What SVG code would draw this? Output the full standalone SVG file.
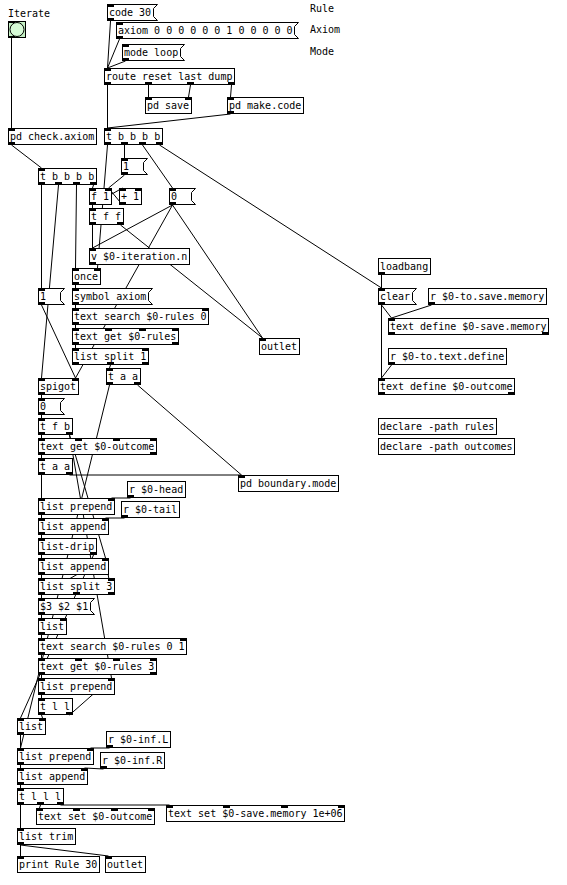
<svg xmlns="http://www.w3.org/2000/svg" width="567" height="885" viewBox="0 0 567 885">
<style>
.b{fill:#fff;stroke:#000;stroke-width:1}
.io{fill:#000}
.t{font-family:"DejaVu Sans Mono","Liberation Mono",monospace;font-size:10px;fill:#000}
.c{stroke:#000;stroke-width:1;fill:none}
</style>
<rect width="567" height="885" fill="#fff"/>
<g id="comments">
<text class="t" x="8" y="17">Iterate</text>
<text class="t" x="310" y="12">Rule</text>
<text class="t" x="310" y="33">Axiom</text>
<text class="t" x="310" y="55">Mode</text>
</g>
<g id="connectors" class="c">
<line x1="110.5" y1="21" x2="107.5" y2="68"/>
<line x1="119.5" y1="39" x2="107.5" y2="68"/>
<line x1="125.5" y1="61" x2="107.5" y2="68"/>
<line x1="107.5" y1="85" x2="107.5" y2="128"/>
<line x1="148.5" y1="85" x2="148.5" y2="97"/>
<line x1="190.5" y1="85" x2="188.5" y2="97"/>
<line x1="231.5" y1="85" x2="230.5" y2="97"/>
<line x1="230.5" y1="114" x2="107.5" y2="128"/>
<line x1="11.5" y1="38" x2="11.5" y2="128"/>
<line x1="11.5" y1="145" x2="41.5" y2="168"/>
<line x1="107.5" y1="145" x2="97.5" y2="268"/>
<line x1="124.5" y1="145" x2="124.5" y2="158"/>
<line x1="142.5" y1="145" x2="172.5" y2="188"/>
<line x1="159.5" y1="145" x2="381.5" y2="288"/>
<line x1="124.5" y1="175" x2="108.5" y2="188"/>
<line x1="92.5" y1="205" x2="122.5" y2="188"/>
<line x1="122.5" y1="205" x2="108.5" y2="188"/>
<line x1="92.5" y1="205" x2="92.5" y2="208"/>
<line x1="92.5" y1="225" x2="92.5" y2="248"/>
<line x1="120.5" y1="225" x2="262.5" y2="338"/>
<line x1="172.5" y1="205" x2="92.5" y2="248"/>
<line x1="172.5" y1="205" x2="262.5" y2="338"/>
<line x1="172.5" y1="205" x2="75.5" y2="378"/>
<line x1="41.5" y1="185" x2="41.5" y2="288"/>
<line x1="58.5" y1="185" x2="41.5" y2="378"/>
<line x1="76.5" y1="185" x2="75.5" y2="268"/>
<line x1="93.5" y1="185" x2="92.5" y2="188"/>
<line x1="41.5" y1="305" x2="75.5" y2="378"/>
<line x1="75.5" y1="285" x2="75.5" y2="288"/>
<line x1="75.5" y1="305" x2="75.5" y2="308"/>
<line x1="75.5" y1="325" x2="75.5" y2="328"/>
<line x1="75.5" y1="345" x2="75.5" y2="348"/>
<line x1="110.5" y1="365" x2="109.5" y2="368"/>
<line x1="137.5" y1="385" x2="241.5" y2="475"/>
<line x1="109.5" y1="385" x2="20.5" y2="748"/>
<line x1="41.5" y1="395" x2="41.5" y2="398"/>
<line x1="41.5" y1="415" x2="41.5" y2="418"/>
<line x1="41.5" y1="435" x2="41.5" y2="438"/>
<line x1="69.5" y1="435" x2="105.5" y2="558"/>
<line x1="69.5" y1="435" x2="111.5" y2="678"/>
<line x1="41.5" y1="455" x2="41.5" y2="458"/>
<line x1="41.5" y1="475" x2="41.5" y2="498"/>
<line x1="69.5" y1="475" x2="241.5" y2="475"/>
<line x1="130.5" y1="498" x2="111.5" y2="498"/>
<line x1="41.5" y1="515" x2="41.5" y2="518"/>
<line x1="124.5" y1="518" x2="105.5" y2="518"/>
<line x1="41.5" y1="535" x2="41.5" y2="538"/>
<line x1="41.5" y1="555" x2="41.5" y2="558"/>
<line x1="93.5" y1="555" x2="20.5" y2="718"/>
<line x1="41.5" y1="575" x2="41.5" y2="578"/>
<line x1="41.5" y1="595" x2="41.5" y2="598"/>
<line x1="41.5" y1="595" x2="105.5" y2="558"/>
<line x1="111.5" y1="595" x2="105.5" y2="558"/>
<line x1="41.5" y1="615" x2="41.5" y2="618"/>
<line x1="41.5" y1="635" x2="41.5" y2="638"/>
<line x1="41.5" y1="655" x2="41.5" y2="658"/>
<line x1="41.5" y1="675" x2="41.5" y2="678"/>
<line x1="41.5" y1="695" x2="41.5" y2="698"/>
<line x1="69.5" y1="715" x2="111.5" y2="678"/>
<line x1="41.5" y1="715" x2="42.5" y2="718"/>
<line x1="20.5" y1="735" x2="20.5" y2="748"/>
<line x1="109.5" y1="748" x2="90.5" y2="748"/>
<line x1="20.5" y1="765" x2="20.5" y2="768"/>
<line x1="103.5" y1="769" x2="84.5" y2="768"/>
<line x1="20.5" y1="785" x2="20.5" y2="788"/>
<line x1="20.5" y1="805" x2="20.5" y2="828"/>
<line x1="40.5" y1="805" x2="39.5" y2="808"/>
<line x1="60.5" y1="805" x2="169.5" y2="805"/>
<line x1="20.5" y1="845" x2="20.5" y2="856"/>
<line x1="20.5" y1="845" x2="108.5" y2="856"/>
<line x1="381.5" y1="275" x2="381.5" y2="288"/>
<line x1="381.5" y1="305" x2="391.5" y2="318"/>
<line x1="381.5" y1="305" x2="381.5" y2="378"/>
<line x1="431.5" y1="305" x2="391.5" y2="318"/>
<line x1="391.5" y1="365" x2="381.5" y2="378"/>
</g>
<g id="n_code30"><polygon class="b" points="107.5,4.5 157.5,4.5 153.5,8.5 153.5,16.5 157.5,20.5 107.5,20.5"/><text class="t" x="109" y="16">code 30</text><rect class="io" x="107" y="4" width="7" height="3"/><rect class="io" x="107" y="18" width="7" height="3"/></g>
<g id="n_axiom"><polygon class="b" points="116.5,22.5 298.5,22.5 294.5,26.5 294.5,34.5 298.5,38.5 116.5,38.5"/><text class="t" x="118" y="34">axiom 0 0 0 0 0 0 1 0 0 0 0 0</text><rect class="io" x="116" y="22" width="7" height="3"/><rect class="io" x="116" y="36" width="7" height="3"/></g>
<g id="n_mode"><polygon class="b" points="122.5,44.5 184.5,44.5 180.5,48.5 180.5,56.5 184.5,60.5 122.5,60.5"/><text class="t" x="124" y="56">mode loop</text><rect class="io" x="122" y="44" width="7" height="3"/><rect class="io" x="122" y="58" width="7" height="3"/></g>
<g id="n_route"><rect class="b" x="104.5" y="68.5" width="130" height="16"/><text class="t" x="106" y="80">route reset last dump</text><rect class="io" x="104" y="68" width="7" height="3"/><rect class="io" x="104" y="82" width="7" height="3"/><rect class="io" x="145" y="82" width="7" height="3"/><rect class="io" x="187" y="82" width="7" height="3"/><rect class="io" x="228" y="82" width="7" height="3"/></g>
<g id="n_pdsave"><rect class="b" x="145.5" y="97.5" width="46" height="16"/><text class="t" x="147" y="109">pd save</text><rect class="io" x="145" y="97" width="7" height="3"/><rect class="io" x="185" y="97" width="7" height="3"/></g>
<g id="n_makecode"><rect class="b" x="227.5" y="97.5" width="76" height="16"/><text class="t" x="229" y="109">pd make.code</text><rect class="io" x="227" y="97" width="7" height="3"/><rect class="io" x="227" y="111" width="7" height="3"/></g>
<g id="n_bang"><rect x="8.5" y="21.5" width="17" height="16" fill="#c4f0c4" stroke="#000"/><circle cx="17" cy="29.5" r="7" fill="#d6fad6" stroke="#000"/><rect class="io" x="8" y="21" width="7" height="2"/><rect class="io" x="8" y="36" width="7" height="2"/></g>
<g id="n_checkaxiom"><rect class="b" x="8.5" y="128.5" width="88" height="16"/><text class="t" x="10" y="140">pd check.axiom</text><rect class="io" x="8" y="128" width="7" height="3"/><rect class="io" x="8" y="142" width="7" height="3"/></g>
<g id="n_tbbbb1"><rect class="b" x="104.5" y="128.5" width="58" height="16"/><text class="t" x="106" y="140">t b b b b</text><rect class="io" x="104" y="128" width="7" height="3"/><rect class="io" x="104" y="142" width="7" height="3"/><rect class="io" x="121" y="142" width="7" height="3"/><rect class="io" x="139" y="142" width="7" height="3"/><rect class="io" x="156" y="142" width="7" height="3"/></g>
<g id="n_msg1a"><polygon class="b" points="121.5,158.5 147.5,158.5 143.5,162.5 143.5,170.5 147.5,174.5 121.5,174.5"/><text class="t" x="123" y="170">1</text><rect class="io" x="121" y="158" width="7" height="3"/><rect class="io" x="121" y="172" width="7" height="3"/></g>
<g id="n_tbbbb2"><rect class="b" x="38.5" y="168.5" width="58" height="16"/><text class="t" x="40" y="180">t b b b b</text><rect class="io" x="38" y="168" width="7" height="3"/><rect class="io" x="38" y="182" width="7" height="3"/><rect class="io" x="55" y="182" width="7" height="3"/><rect class="io" x="73" y="182" width="7" height="3"/><rect class="io" x="90" y="182" width="7" height="3"/></g>
<g id="n_f1"><rect class="b" x="89.5" y="188.5" width="22" height="16"/><text class="t" x="91" y="200">f 1</text><rect class="io" x="89" y="188" width="7" height="3"/><rect class="io" x="105" y="188" width="7" height="3"/><rect class="io" x="89" y="202" width="7" height="3"/></g>
<g id="n_plus1"><rect class="b" x="119.5" y="188.5" width="22" height="16"/><text class="t" x="121" y="200">+ 1</text><rect class="io" x="119" y="188" width="7" height="3"/><rect class="io" x="135" y="188" width="7" height="3"/><rect class="io" x="119" y="202" width="7" height="3"/></g>
<g id="n_msg0a"><polygon class="b" points="169.5,188.5 195.5,188.5 191.5,192.5 191.5,200.5 195.5,204.5 169.5,204.5"/><text class="t" x="171" y="200">0</text><rect class="io" x="169" y="188" width="7" height="3"/><rect class="io" x="169" y="202" width="7" height="3"/></g>
<g id="n_tff"><rect class="b" x="89.5" y="208.5" width="34" height="16"/><text class="t" x="91" y="220">t f f</text><rect class="io" x="89" y="208" width="7" height="3"/><rect class="io" x="89" y="222" width="7" height="3"/><rect class="io" x="117" y="222" width="7" height="3"/></g>
<g id="n_viter"><rect class="b" x="89.5" y="248.5" width="100" height="16"/><text class="t" x="91" y="260">v $0-iteration.n</text><rect class="io" x="89" y="248" width="7" height="3"/><rect class="io" x="89" y="262" width="7" height="3"/></g>
<g id="n_once"><rect class="b" x="72.5" y="268.5" width="28" height="16"/><text class="t" x="74" y="280">once</text><rect class="io" x="72" y="268" width="7" height="3"/><rect class="io" x="94" y="268" width="7" height="3"/><rect class="io" x="72" y="282" width="7" height="3"/></g>
<g id="n_msg1b"><polygon class="b" points="38.5,288.5 64.5,288.5 60.5,292.5 60.5,300.5 64.5,304.5 38.5,304.5"/><text class="t" x="40" y="300">1</text><rect class="io" x="38" y="288" width="7" height="3"/><rect class="io" x="38" y="302" width="7" height="3"/></g>
<g id="n_symaxiom"><polygon class="b" points="72.5,288.5 152.5,288.5 148.5,292.5 148.5,300.5 152.5,304.5 72.5,304.5"/><text class="t" x="74" y="300">symbol axiom</text><rect class="io" x="72" y="288" width="7" height="3"/><rect class="io" x="72" y="302" width="7" height="3"/></g>
<g id="n_loadbang"><rect class="b" x="378.5" y="258.5" width="52" height="16"/><text class="t" x="380" y="270">loadbang</text><rect class="io" x="378" y="272" width="7" height="3"/></g>
<g id="n_clear"><polygon class="b" points="378.5,288.5 416.5,288.5 412.5,292.5 412.5,300.5 416.5,304.5 378.5,304.5"/><text class="t" x="380" y="300">clear</text><rect class="io" x="378" y="288" width="7" height="3"/><rect class="io" x="378" y="302" width="7" height="3"/></g>
<g id="n_rsave"><rect class="b" x="428.5" y="288.5" width="118" height="16"/><text class="t" x="430" y="300">r $0-to.save.memory</text><rect class="io" x="428" y="302" width="7" height="3"/></g>
<g id="n_defsave"><rect class="b" x="388.5" y="318.5" width="160" height="16"/><text class="t" x="390" y="330">text define $0-save.memory</text><rect class="io" x="388" y="318" width="7" height="3"/><rect class="io" x="388" y="332" width="7" height="3"/><rect class="io" x="542" y="332" width="7" height="3"/></g>
<g id="n_rdefine"><rect class="b" x="388.5" y="348.5" width="118" height="16"/><text class="t" x="390" y="360">r $0-to.text.define</text><rect class="io" x="388" y="362" width="7" height="3"/></g>
<g id="n_defoutcome"><rect class="b" x="378.5" y="378.5" width="136" height="16"/><text class="t" x="380" y="390">text define $0-outcome</text><rect class="io" x="378" y="378" width="7" height="3"/><rect class="io" x="378" y="392" width="7" height="3"/><rect class="io" x="508" y="392" width="7" height="3"/></g>
<g id="n_search1"><rect class="b" x="72.5" y="308.5" width="136" height="16"/><text class="t" x="74" y="320">text search $0-rules 0</text><rect class="io" x="72" y="308" width="7" height="3"/><rect class="io" x="202" y="308" width="7" height="3"/><rect class="io" x="72" y="322" width="7" height="3"/></g>
<g id="n_get1"><rect class="b" x="72.5" y="328.5" width="106" height="16"/><text class="t" x="74" y="340">text get $0-rules</text><rect class="io" x="72" y="328" width="7" height="3"/><rect class="io" x="105" y="328" width="7" height="3"/><rect class="io" x="139" y="328" width="7" height="3"/><rect class="io" x="172" y="328" width="7" height="3"/><rect class="io" x="72" y="342" width="7" height="3"/><rect class="io" x="172" y="342" width="7" height="3"/></g>
<g id="n_split1"><rect class="b" x="72.5" y="348.5" width="76" height="16"/><text class="t" x="74" y="360">list split 1</text><rect class="io" x="72" y="348" width="7" height="3"/><rect class="io" x="142" y="348" width="7" height="3"/><rect class="io" x="72" y="362" width="7" height="3"/><rect class="io" x="107" y="362" width="7" height="3"/><rect class="io" x="142" y="362" width="7" height="3"/></g>
<g id="n_outlet1"><rect class="b" x="259.5" y="338.5" width="40" height="16"/><text class="t" x="261" y="350">outlet</text><rect class="io" x="259" y="338" width="7" height="3"/></g>
<g id="n_taa1"><rect class="b" x="106.5" y="368.5" width="34" height="16"/><text class="t" x="108" y="380">t a a</text><rect class="io" x="106" y="368" width="7" height="3"/><rect class="io" x="106" y="382" width="7" height="3"/><rect class="io" x="134" y="382" width="7" height="3"/></g>
<g id="n_spigot"><rect class="b" x="38.5" y="378.5" width="40" height="16"/><text class="t" x="40" y="390">spigot</text><rect class="io" x="38" y="378" width="7" height="3"/><rect class="io" x="72" y="378" width="7" height="3"/><rect class="io" x="38" y="392" width="7" height="3"/></g>
<g id="n_msg0b"><polygon class="b" points="38.5,398.5 64.5,398.5 60.5,402.5 60.5,410.5 64.5,414.5 38.5,414.5"/><text class="t" x="40" y="410">0</text><rect class="io" x="38" y="398" width="7" height="3"/><rect class="io" x="38" y="412" width="7" height="3"/></g>
<g id="n_tfb"><rect class="b" x="38.5" y="418.5" width="34" height="16"/><text class="t" x="40" y="430">t f b</text><rect class="io" x="38" y="418" width="7" height="3"/><rect class="io" x="38" y="432" width="7" height="3"/><rect class="io" x="66" y="432" width="7" height="3"/></g>
<g id="n_getoutcome"><rect class="b" x="38.5" y="438.5" width="118" height="16"/><text class="t" x="40" y="450">text get $0-outcome</text><rect class="io" x="38" y="438" width="7" height="3"/><rect class="io" x="75" y="438" width="7" height="3"/><rect class="io" x="113" y="438" width="7" height="3"/><rect class="io" x="150" y="438" width="7" height="3"/><rect class="io" x="38" y="452" width="7" height="3"/><rect class="io" x="150" y="452" width="7" height="3"/></g>
<g id="n_taa2"><rect class="b" x="38.5" y="458.5" width="34" height="16"/><text class="t" x="40" y="470">t a a</text><rect class="io" x="38" y="458" width="7" height="3"/><rect class="io" x="38" y="472" width="7" height="3"/><rect class="io" x="66" y="472" width="7" height="3"/></g>
<g id="n_boundary"><rect class="b" x="238.5" y="475.5" width="100" height="16"/><text class="t" x="240" y="487">pd boundary.mode</text><rect class="io" x="238" y="475" width="7" height="3"/></g>
<g id="n_rhead"><rect class="b" x="127.5" y="481.5" width="58" height="16"/><text class="t" x="129" y="493">r $0-head</text><rect class="io" x="127" y="495" width="7" height="3"/></g>
<g id="n_prepend1"><rect class="b" x="38.5" y="498.5" width="76" height="16"/><text class="t" x="40" y="510">list prepend</text><rect class="io" x="38" y="498" width="7" height="3"/><rect class="io" x="108" y="498" width="7" height="3"/><rect class="io" x="38" y="512" width="7" height="3"/></g>
<g id="n_rtail"><rect class="b" x="121.5" y="501.5" width="58" height="16"/><text class="t" x="123" y="513">r $0-tail</text><rect class="io" x="121" y="515" width="7" height="3"/></g>
<g id="n_append1"><rect class="b" x="38.5" y="518.5" width="70" height="16"/><text class="t" x="40" y="530">list append</text><rect class="io" x="38" y="518" width="7" height="3"/><rect class="io" x="102" y="518" width="7" height="3"/><rect class="io" x="38" y="532" width="7" height="3"/></g>
<g id="n_drip"><rect class="b" x="38.5" y="538.5" width="58" height="16"/><text class="t" x="40" y="550">list-drip</text><rect class="io" x="38" y="538" width="7" height="3"/><rect class="io" x="38" y="552" width="7" height="3"/><rect class="io" x="90" y="552" width="7" height="3"/></g>
<g id="n_append2"><rect class="b" x="38.5" y="558.5" width="70" height="16"/><text class="t" x="40" y="570">list append</text><rect class="io" x="38" y="558" width="7" height="3"/><rect class="io" x="102" y="558" width="7" height="3"/><rect class="io" x="38" y="572" width="7" height="3"/></g>
<g id="n_split3"><rect class="b" x="38.5" y="578.5" width="76" height="16"/><text class="t" x="40" y="590">list split 3</text><rect class="io" x="38" y="578" width="7" height="3"/><rect class="io" x="108" y="578" width="7" height="3"/><rect class="io" x="38" y="592" width="7" height="3"/><rect class="io" x="73" y="592" width="7" height="3"/><rect class="io" x="108" y="592" width="7" height="3"/></g>
<g id="n_rev"><polygon class="b" points="38.5,598.5 94.5,598.5 90.5,602.5 90.5,610.5 94.5,614.5 38.5,614.5"/><text class="t" x="40" y="610">$3 $2 $1</text><rect class="io" x="38" y="598" width="7" height="3"/><rect class="io" x="38" y="612" width="7" height="3"/></g>
<g id="n_list1"><rect class="b" x="38.5" y="618.5" width="28" height="16"/><text class="t" x="40" y="630">list</text><rect class="io" x="38" y="618" width="7" height="3"/><rect class="io" x="60" y="618" width="7" height="3"/><rect class="io" x="38" y="632" width="7" height="3"/></g>
<g id="n_search2"><rect class="b" x="38.5" y="638.5" width="148" height="16"/><text class="t" x="40" y="650">text search $0-rules 0 1</text><rect class="io" x="38" y="638" width="7" height="3"/><rect class="io" x="180" y="638" width="7" height="3"/><rect class="io" x="38" y="652" width="7" height="3"/></g>
<g id="n_get2"><rect class="b" x="38.5" y="658.5" width="118" height="16"/><text class="t" x="40" y="670">text get $0-rules 3</text><rect class="io" x="38" y="658" width="7" height="3"/><rect class="io" x="75" y="658" width="7" height="3"/><rect class="io" x="113" y="658" width="7" height="3"/><rect class="io" x="150" y="658" width="7" height="3"/><rect class="io" x="38" y="672" width="7" height="3"/><rect class="io" x="150" y="672" width="7" height="3"/></g>
<g id="n_prepend2"><rect class="b" x="38.5" y="678.5" width="76" height="16"/><text class="t" x="40" y="690">list prepend</text><rect class="io" x="38" y="678" width="7" height="3"/><rect class="io" x="108" y="678" width="7" height="3"/><rect class="io" x="38" y="692" width="7" height="3"/></g>
<g id="n_tll"><rect class="b" x="38.5" y="698.5" width="34" height="16"/><text class="t" x="40" y="710">t l l</text><rect class="io" x="38" y="698" width="7" height="3"/><rect class="io" x="38" y="712" width="7" height="3"/><rect class="io" x="66" y="712" width="7" height="3"/></g>
<g id="n_list2"><rect class="b" x="17.5" y="718.5" width="28" height="16"/><text class="t" x="19" y="730">list</text><rect class="io" x="17" y="718" width="7" height="3"/><rect class="io" x="39" y="718" width="7" height="3"/><rect class="io" x="17" y="732" width="7" height="3"/></g>
<g id="n_infL"><rect class="b" x="106.5" y="731.5" width="64" height="16"/><text class="t" x="108" y="743">r $0-inf.L</text><rect class="io" x="106" y="745" width="7" height="3"/></g>
<g id="n_prepend3"><rect class="b" x="17.5" y="748.5" width="76" height="16"/><text class="t" x="19" y="760">list prepend</text><rect class="io" x="17" y="748" width="7" height="3"/><rect class="io" x="87" y="748" width="7" height="3"/><rect class="io" x="17" y="762" width="7" height="3"/></g>
<g id="n_infR"><rect class="b" x="100.5" y="752.5" width="64" height="16"/><text class="t" x="102" y="764">r $0-inf.R</text><rect class="io" x="100" y="766" width="7" height="3"/></g>
<g id="n_append3"><rect class="b" x="17.5" y="768.5" width="70" height="16"/><text class="t" x="19" y="780">list append</text><rect class="io" x="17" y="768" width="7" height="3"/><rect class="io" x="81" y="768" width="7" height="3"/><rect class="io" x="17" y="782" width="7" height="3"/></g>
<g id="n_tlll"><rect class="b" x="17.5" y="788.5" width="46" height="16"/><text class="t" x="19" y="800">t l l l</text><rect class="io" x="17" y="788" width="7" height="3"/><rect class="io" x="17" y="802" width="7" height="3"/><rect class="io" x="37" y="802" width="7" height="3"/><rect class="io" x="57" y="802" width="7" height="3"/></g>
<g id="n_setoutcome"><rect class="b" x="36.5" y="808.5" width="118" height="16"/><text class="t" x="38" y="820">text set $0-outcome</text><rect class="io" x="36" y="808" width="7" height="3"/><rect class="io" x="73" y="808" width="7" height="3"/><rect class="io" x="111" y="808" width="7" height="3"/><rect class="io" x="148" y="808" width="7" height="3"/></g>
<g id="n_setsave"><rect class="b" x="166.5" y="805.5" width="178" height="16"/><text class="t" x="168" y="817">text set $0-save.memory 1e+06</text><rect class="io" x="166" y="805" width="7" height="3"/><rect class="io" x="223" y="805" width="7" height="3"/><rect class="io" x="281" y="805" width="7" height="3"/><rect class="io" x="338" y="805" width="7" height="3"/></g>
<g id="n_trim"><rect class="b" x="17.5" y="828.5" width="58" height="16"/><text class="t" x="19" y="840">list trim</text><rect class="io" x="17" y="828" width="7" height="3"/><rect class="io" x="17" y="842" width="7" height="3"/></g>
<g id="n_print"><rect class="b" x="17.5" y="856.5" width="82" height="16"/><text class="t" x="19" y="868">print Rule 30</text><rect class="io" x="17" y="856" width="7" height="3"/></g>
<g id="n_outlet2"><rect class="b" x="105.5" y="856.5" width="40" height="16"/><text class="t" x="107" y="868">outlet</text><rect class="io" x="105" y="856" width="7" height="3"/></g>
<g id="n_decl1"><rect class="b" x="378.5" y="418.5" width="118" height="16"/><text class="t" x="380" y="430">declare -path rules</text></g>
<g id="n_decl2"><rect class="b" x="378.5" y="438.5" width="136" height="16"/><text class="t" x="380" y="450">declare -path outcomes</text></g>
</svg>
